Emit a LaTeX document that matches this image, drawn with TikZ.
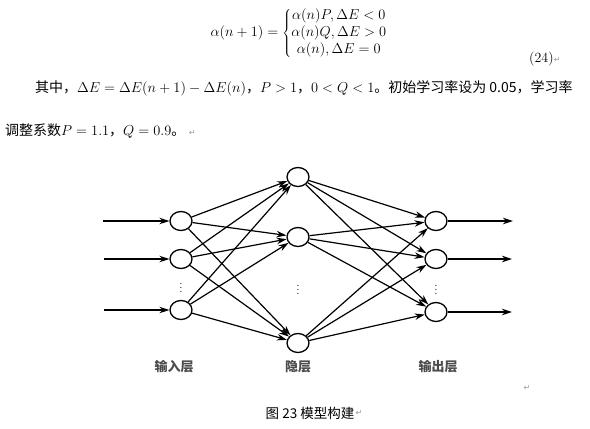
\documentclass[tikz,border=0pt]{standalone}
\usepackage{fontspec}
\newfontfamily\cjk{Noto Sans CJK SC}
\newfontfamily\djv{DejaVu Sans}
\usetikzlibrary{arrows.meta,shapes.geometric}
\tikzset{
  neuron/.style={draw, line width=1.3pt, ellipse, minimum width=22pt, minimum height=19pt, inner sep=0pt, fill=white},
  conn/.style={line width=1.2pt, -{Stealth[length=10pt,width=6.5pt]}},
  layerlabel/.style={font=\fontsize{13}{15}\selectfont\cjk\bfseries, text=black!70},
  body/.style={font=\fontsize{14}{16}\selectfont, anchor=base west, inner sep=0pt},
  retmark/.style={font=\fontsize{8}{9}\selectfont\djv, text=black!40, inner sep=0pt},
  dots/.style={font=\fontsize{12}{14}\selectfont, inner sep=0pt}
}
\begin{document}
\begin{tikzpicture}[x=1pt,y=-1pt]
\useasboundingbox (0,0) rectangle (590,429);
% equation
\node[font=\fontsize{14}{16}\selectfont, inner sep=0pt] (eq) at (299,33)
  {\renewcommand{\arraystretch}{1.08}$\alpha(n+1)=\left\{\begin{array}{@{}c@{}}\alpha(n)P,\Delta E<0\\ \alpha(n)Q,\Delta E>0\\ \alpha(n),\Delta E=0\end{array}\right.$};
\node[body] (num) at (529,62) {(24)};
\node[retmark, anchor=base west] (r1) at (num.base east) {↵};
% text lines
\node[body] (l1) at (35,92) {{\cjk 其中，}$\Delta E=\Delta E(n+1)-\Delta E(n)${\cjk ，}$P>1${\cjk ，}$0<Q<1${\cjk 。初始学习率设为 0.05，学习率}};
\node[body] (l2) at (5,135) {{\cjk 调整系数}$P=1.1${\cjk ，}$Q=0.9${\cjk 。}};
\node[retmark, anchor=base west] (r2) at ([xshift=3pt]l2.base east) {↵};
% neurons
\node[neuron] (i1) at (181,221) {};
\node[neuron] (i2) at (181,259) {};
\node[neuron] (i3) at (181,310) {};
\node[neuron] (h1) at (298,177) {};
\node[neuron] (h2) at (298,237) {};
\node[neuron] (h3) at (298,343) {};
\node[neuron] (o1) at (436,221) {};
\node[neuron] (o2) at (436,259) {};
\node[neuron] (o3) at (436,312) {};
\node[dots] (d1) at (181,285) {$\vdots$};
\node[dots] (d2) at (298,287) {$\vdots$};
\node[dots] (d3) at (436,287) {$\vdots$};
\coordinate (a1) at (103,221);
\coordinate (a2) at (104,259);
\coordinate (a3) at (104,310);
\coordinate (b1) at (513,221);
\coordinate (b2) at (512,259);
\coordinate (b3) at (512,312);
\foreach \k in {1,2,3}{
  \draw[conn] (a\k) -- (i\k);
  \draw[conn] (o\k) -- (b\k);
  \foreach \j in {1,2,3}{
    \draw[conn] (i\k) -- (h\j);
    \draw[conn] (h\k) -- (o\j);
  }
}
% labels
\node[layerlabel] (L1) at (174,367) {输入层};
\node[layerlabel] (L2) at (298,367) {隐层};
\node[layerlabel] (L3) at (438,367) {输出层};
\node[retmark] (r3) at (527,388) {↵};
\node[font=\fontsize{13.5}{15}\selectfont\cjk, inner sep=0pt] (cap) at (310,413) {图 23 模型构建};
\node[retmark, anchor=west] (r4) at ([xshift=1pt]cap.east) {↵};
\end{tikzpicture}
\end{document}
